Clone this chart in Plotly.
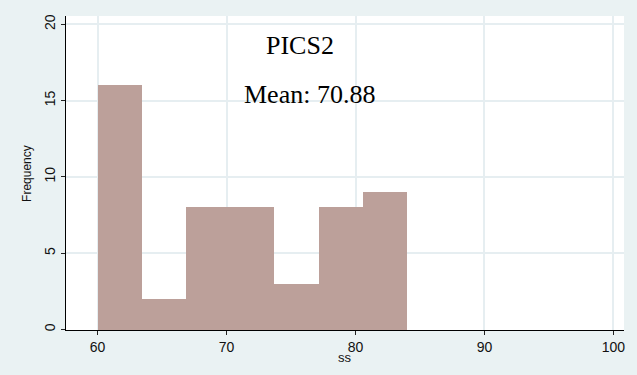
import plotly.graph_objects as go

# Histogram of ss: 7 equal bins from 60 to 84
bin_start = 60.0
bin_end = 84.0
counts = [16, 2, 8, 8, 3, 8, 9]
mean_ss = 70.88
title_text = "PICS2"

x_ticks = [60, 70, 80, 90, 100]
y_ticks = [0, 5, 10, 15, 20]

n_bins = len(counts)
bin_width = (bin_end - bin_start) / n_bins
centers = [bin_start + bin_width * (i + 0.5) for i in range(n_bins)]

BG = "#EAF2F3"
GRID = "#E6EEF1"
BAR = "#BCA09A"

fig = go.Figure()
fig.add_trace(go.Bar(
    x=centers,
    y=counts,
    width=[bin_width] * n_bins,
    marker=dict(color=BAR, line=dict(width=0)),
    hoverinfo="x+y",
))

fig.add_annotation(x=75.66, y=18.59, text=title_text, showarrow=False,
                   font=dict(family="Liberation Serif", size=26, color="black"),
                   xanchor="center", yanchor="middle")
fig.add_annotation(x=76.4, y=15.43, text=f"Mean: {mean_ss:.2f}", showarrow=False,
                   font=dict(family="Liberation Serif", size=26, color="black"),
                   xanchor="center", yanchor="middle")

# axis titles
fig.add_annotation(x=0.5, y=-0.089, xref="paper", yref="paper", text="ss",
                   showarrow=False, xanchor="center", yanchor="middle",
                   font=dict(family="Liberation Sans", size=13, color="#111"))
fig.add_annotation(x=-0.07, y=0.5, xref="paper", yref="paper", text="Frequency",
                   showarrow=False, xanchor="center", yanchor="middle", textangle=-90,
                   font=dict(family="Liberation Sans", size=12, color="#111"))

fig.update_layout(
    width=637, height=375,
    margin=dict(l=66, r=13, t=16, b=45, pad=0),
    paper_bgcolor=BG,
    plot_bgcolor="white",
    showlegend=False,
    bargap=0,
    font=dict(family="Liberation Sans", color="#111"),
    xaxis=dict(
        range=[57.55, 100.82],
        tickvals=x_ticks,
        ticks="outside", ticklen=4, tickcolor="#222", tickwidth=1,
        showline=True, linecolor="black", linewidth=1,
        showgrid=True, gridcolor=GRID, gridwidth=2,
        zeroline=False,
        tickfont=dict(size=14, color="#111"),
    ),
    yaxis=dict(
        range=[-0.03, 20.54],
        tickvals=y_ticks,
        ticks="outside", ticklen=4, tickcolor="#222", tickwidth=1,
        showline=True, linecolor="black", linewidth=1,
        showgrid=True, gridcolor=GRID, gridwidth=2,
        zeroline=False,
        tickangle=-90,
        tickfont=dict(size=14, color="#111"),
    ),
)

fig.write_html("out.html")
